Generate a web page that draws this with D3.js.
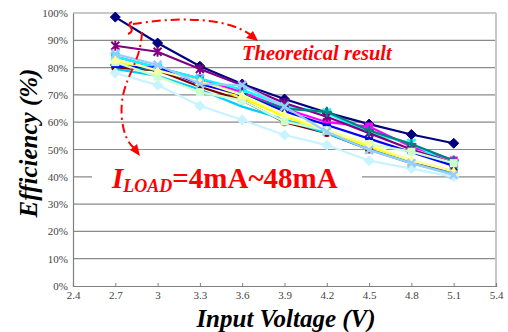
<!DOCTYPE html>
<html><head><meta charset="utf-8">
<script src="https://cdn.jsdelivr.net/npm/d3@7"></script>
<style>html,body{margin:0;padding:0;background:#fff;}svg{display:block;}</style>
</head><body>
<svg id="c" width="508" height="332"></svg>
<script>
const voltages = [2.7, 3.0, 3.3, 3.6, 3.9, 4.2, 4.5, 4.8, 5.1];
const xTicks = [2.4, 2.7, 3.0, 3.3, 3.6, 3.9, 4.2, 4.5, 4.8, 5.1, 5.4];
const xTickLabels = ["2.4","2.7","3","3.3","3.6","3.9","4.2","4.5","4.8","5.1","5.4"];
const yTicks = [0,10,20,30,40,50,60,70,80,90,100];
const seriesNames = ["Theoretical","4mA","8mA","12mA","16mA","20mA","24mA","28mA","32mA","36mA","40mA","44mA","48mA"];
const seriesColors = ["#000080","#FF00FF","#FFFF00","#00FFFF","#800080","#800000","#008080","#0000FF","#00CCFF","#C8F4FF","#CCFFCC","#FFFF99","#99CCFF"];
const seriesMarkers = ["diamond","square","triangle","x","star","circle","plus","dash","none","diamond","square","triangle","x"];
const theoretical = [98.5, 89, 80.5, 74, 68.5, 63.5, 59.3, 55.5, 52.3];
const s4  = [84, 80, 76, 71, 65, 60, 58.4, 51, 46];
const s8  = [82, 79, 75, 69, 62, 57, 51, 46, 42];
const s12 = [84, 80, 76, 72, 66, 63.5, 56, 52.3, 44];
const s16 = [88, 85.8, 79.5, 73.5, 67, 62, 56, 50, 45];
const s20 = [80, 79, 73, 68, 60, 56, 50, 45, 42];
const s24 = [81, 79, 75, 70, 65, 63.8, 57, 52, 46];
const s28 = [80.5, 80, 74, 70, 64, 59, 54, 49, 44];
const s32 = [79.5, 77, 72, 65.7, 61, 56, 50, 45, 41];
const s36 = [78, 73.6, 66, 60.8, 55.3, 51.6, 45.9, 43, 40];
const s40 = [82, 76.7, 71, 68, 60.2, 57, 52, 49.2, 45];
const s44 = [83, 79, 75, 70, 63, 57, 52, 46, 42];
const s48 = [85, 81, 74, 73.6, 65.7, 56.5, 49.8, 45, 40.7];
const seriesValues = [theoretical, s4, s8, s12, s16, s20, s24, s28, s32, s36, s40, s44, s48];

const SERIF = '"Liberation Serif"';
const svg = d3.select("#c");
const x = d3.scaleLinear().domain([2.4, 5.4]).range([73, 496]);
const y = d3.scaleLinear().domain([0, 100]).range([286, 13]);

// gridlines
svg.append("g").selectAll("line").data(yTicks.filter(d => d > 0 && d < 100)).join("line")
  .attr("x1", x(2.4)).attr("x2", x(5.4)).attr("y1", d => y(d)).attr("y2", d => y(d))
  .attr("stroke", "#8a8a8a").attr("stroke-width", 1.2);
svg.append("line").attr("x1", x(2.4)).attr("x2", x(5.4)).attr("y1", y(100)).attr("y2", y(100))
  .attr("stroke", "#c8c8c8").attr("stroke-width", 2);
svg.append("line").attr("x1", x(5.4)).attr("x2", x(5.4)).attr("y1", y(100)).attr("y2", y(0))
  .attr("stroke", "#c8c8c8").attr("stroke-width", 2);

// axes
const yAxis = d3.axisLeft(y).tickValues(yTicks).tickFormat(d => d + "%").tickSize(0).tickPadding(5);
const gy = svg.append("g").attr("transform", `translate(${x(2.4)},0)`).call(yAxis);
gy.attr("font-family", null).attr("font-size", null);
gy.select(".domain").attr("stroke", "#808080").attr("stroke-width", 1.2);
gy.selectAll("text").style("font-family", SERIF).style("font-size", "11px").attr("fill", "#444");

const xAxis = d3.axisBottom(x).tickValues(xTicks).tickFormat((d, i) => xTickLabels[i]).tickSize(-3).tickPadding(5);
const gx = svg.append("g").attr("transform", `translate(0,${y(0)})`).call(xAxis);
gx.attr("font-family", null).attr("font-size", null);
gx.select(".domain").attr("stroke", "#808080").attr("stroke-width", 1.2);
gx.selectAll(".tick line").attr("stroke", "#808080");
gx.selectAll("text").style("font-family", SERIF).style("font-size", "11px").attr("fill", "#444");

// white box behind load label (hides gridline)
svg.append("rect").attr("x", 92).attr("y", 163).attr("width", 270).attr("height", 30).attr("fill", "#fff");

// series (later series drawn on top)
const line = d3.line().x((d, i) => x(voltages[i])).y(d => y(d));
const g = svg.append("g");
function marker(sel, type, color) {
  const s = 4;
  if (type === "diamond") sel.append("path").attr("d", `M0,${-s-1}L${s+1},0L0,${s+1}L${-s-1},0Z`).attr("fill", color).attr("stroke", color);
  else if (type === "square") sel.append("rect").attr("x", -s).attr("y", -s).attr("width", 2*s).attr("height", 2*s).attr("fill", color);
  else if (type === "triangle") sel.append("path").attr("d", `M0,${-s-1}L${s+1},${s}L${-s-1},${s}Z`).attr("fill", color);
  else if (type === "x") sel.append("path").attr("d", `M${-s},${-s}L${s},${s}M${s},${-s}L${-s},${s}`).attr("stroke", color).attr("stroke-width", 2.4);
  else if (type === "star") sel.append("path").attr("d", `M${-s},${-s}L${s},${s}M${s},${-s}L${-s},${s}M0,${-s-1}L0,${s+1}`).attr("stroke", color).attr("stroke-width", 2);
  else if (type === "circle") sel.append("circle").attr("r", s).attr("fill", color);
  else if (type === "plus") sel.append("path").attr("d", `M${-s-1},0L${s+1},0M0,${-s-1}L0,${s+1}`).attr("stroke", color).attr("stroke-width", 2.2);
  else if (type === "dash") sel.append("path").attr("d", `M${-s},0L${s},0`).attr("stroke", color).attr("stroke-width", 3);
}
seriesValues.forEach((vals, k) => {
  g.append("path").datum(vals).attr("d", line).attr("fill", "none")
    .attr("stroke", seriesColors[k]).attr("stroke-width", 2.2);
  vals.forEach((v, i) => {
    const m = g.append("g").attr("transform", `translate(${x(voltages[i])},${y(v)})`);
    marker(m, seriesMarkers[k], seriesColors[k]);
  });
});

// axis titles
svg.append("text").attr("x", 286).attr("y", 327).attr("text-anchor", "middle")
  .style("font-family", SERIF).style("font-size", "25px").style("font-weight", "bold").style("font-style", "italic")
  .attr("fill", "#000").text("Input Voltage (V)");
svg.append("text").attr("transform", "translate(37,143) rotate(-90)").attr("text-anchor", "middle")
  .style("font-family", SERIF).style("font-size", "25px").style("font-weight", "bold").style("font-style", "italic")
  .attr("fill", "#000").text("Efficiency (%)");

// annotations
const red = "#FF0000";
svg.append("text").attr("x", 242).attr("y", 60)
  .style("font-family", SERIF).style("font-size", "20.5px").style("font-weight", "bold").style("font-style", "italic")
  .attr("fill", red).text("Theoretical result");
const lab = svg.append("text").attr("x", 112).attr("y", 188)
  .style("font-family", SERIF).style("font-size", "29px").style("font-weight", "bold").attr("fill", red);
lab.append("tspan").style("font-style", "italic").text("I");
lab.append("tspan").style("font-style", "italic").style("font-size", "18px").attr("dy", 4).text("LOAD");
lab.append("tspan").attr("dy", -4).text("=4mA~48mA");

const dash = "9,4,2,4";
svg.append("path").attr("d", "M133,24 C170,18 225,15 252,36").attr("fill", "none")
  .attr("stroke", red).attr("stroke-width", 2).attr("stroke-dasharray", dash);
svg.append("path").attr("d", "M258,41 L246,38 L253,31 Z").attr("fill", red);
svg.append("path").attr("d", "M132,22 C124,24 138,30 128,34").attr("fill", "none").attr("stroke", red).attr("stroke-width", 2);
svg.append("path").attr("d", "M142,32 C140,70 118,80 122,120 C124,135 128,143 134,148").attr("fill", "none")
  .attr("stroke", red).attr("stroke-width", 2).attr("stroke-dasharray", dash);
svg.append("path").attr("d", "M140,156 L130,150 L137,144 Z").attr("fill", red);
</script>
</body></html>
